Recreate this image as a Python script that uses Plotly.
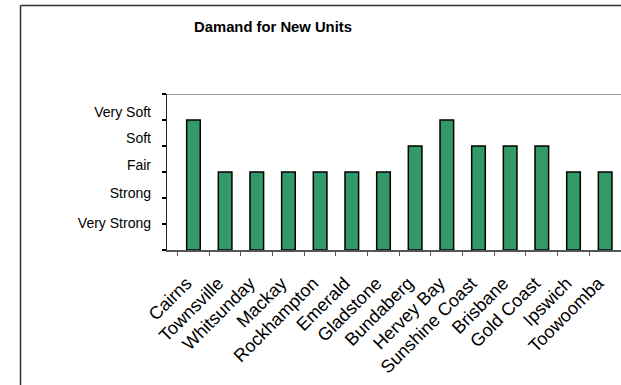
import plotly.graph_objects as go

# Regional demand ratings (1 = Very Strong ... 5 = Very Soft)
regions = ["Cairns", "Townsville", "Whitsunday", "Mackay", "Rockhampton", "Emerald",
           "Gladstone", "Bundaberg", "Hervey Bay", "Sunshine Coast", "Brisbane",
           "Gold Coast", "Ipswich", "Toowoomba"]
demand = [5, 3, 3, 3, 3, 3, 3, 4, 5, 4, 4, 4, 3, 3]

rating_labels = ["Very Strong", "Strong", "Fair", "Soft", "Very Soft"]
rating_label_pos = [1.04, 2.19, 3.27, 4.31, 5.31]
tick_positions = [0, 1, 2, 3, 4, 5, 6]

W, H = 621, 385
L, R, T, B = 167, 0, 94, 135
plot_w = W - L - R
plot_h = H - T - B

def px_x(px):
    return (px - L) / plot_w

def px_y(py):
    return (H - B - py) / plot_h

font = "Liberation Sans, Arial, sans-serif"

fig = go.Figure()
fig.add_trace(go.Bar(
    x=regions, y=demand,
    marker=dict(color="#339966", line=dict(color="#000000", width=1.5)),
    showlegend=False,
))
# invisible trace to carry the rating labels on an overlaid axis
fig.add_trace(go.Scatter(x=[regions[0]], y=[0], yaxis="y2", mode="markers",
                         marker=dict(opacity=0), showlegend=False, hoverinfo="skip"))

fig.update_layout(
    width=W, height=H,
    margin=dict(l=L, r=R, t=T, b=B),
    paper_bgcolor="white", plot_bgcolor="white",
    font=dict(family=font, size=14, color="black"),
    bargap=0.57,
    title=dict(text="<b>Damand for New Units</b>", xref="container", yref="container",
               x=273 / W, y=1 - 27 / H, xanchor="center", yanchor="middle",
               font=dict(family=font, size=14.8, color="black")),
    xaxis=dict(
        type="category", showline=True, linecolor="#555555", linewidth=1.5,
        ticks="outside", tickson="boundaries", ticklen=4, tickcolor="#555555",
        tickwidth=1, tickangle=-45, ticklabelstandoff=14, ticklabelshift=-7,
        tickfont=dict(family=font, size=18, color="black"),
        showgrid=False, zeroline=False,
    ),
    yaxis=dict(
        range=[0, 6], tickvals=tick_positions, showticklabels=False,
        showline=True, linecolor="#222222", linewidth=1,
        ticks="outside", ticklen=4, tickwidth=2, tickcolor="black",
        showgrid=False, zeroline=False, fixedrange=True,
    ),
    yaxis2=dict(
        overlaying="y", side="left", range=[0, 6],
        tickvals=rating_label_pos, ticktext=rating_labels,
        ticks="", showline=False, showgrid=False, zeroline=False,
        ticklabelstandoff=15,
        tickfont=dict(family=font, size=14, color="black"),
    ),
    shapes=[
        # plot area top border
        dict(type="line", xref="paper", yref="y", x0=0, x1=1.02, y0=6, y1=6,
             line=dict(color="#999999", width=2), layer="above"),
        # chart frame (left and top edges)
        dict(type="line", xref="paper", yref="paper", x0=px_x(20.5), x1=px_x(20.5),
             y0=px_y(5.5), y1=px_y(395), line=dict(color="#333333", width=1.5)),
        dict(type="line", xref="paper", yref="paper", x0=px_x(20.5), x1=px_x(630),
             y0=px_y(5.5), y1=px_y(5.5), line=dict(color="#333333", width=1.5)),
    ],
)

fig.write_html("out.html")
